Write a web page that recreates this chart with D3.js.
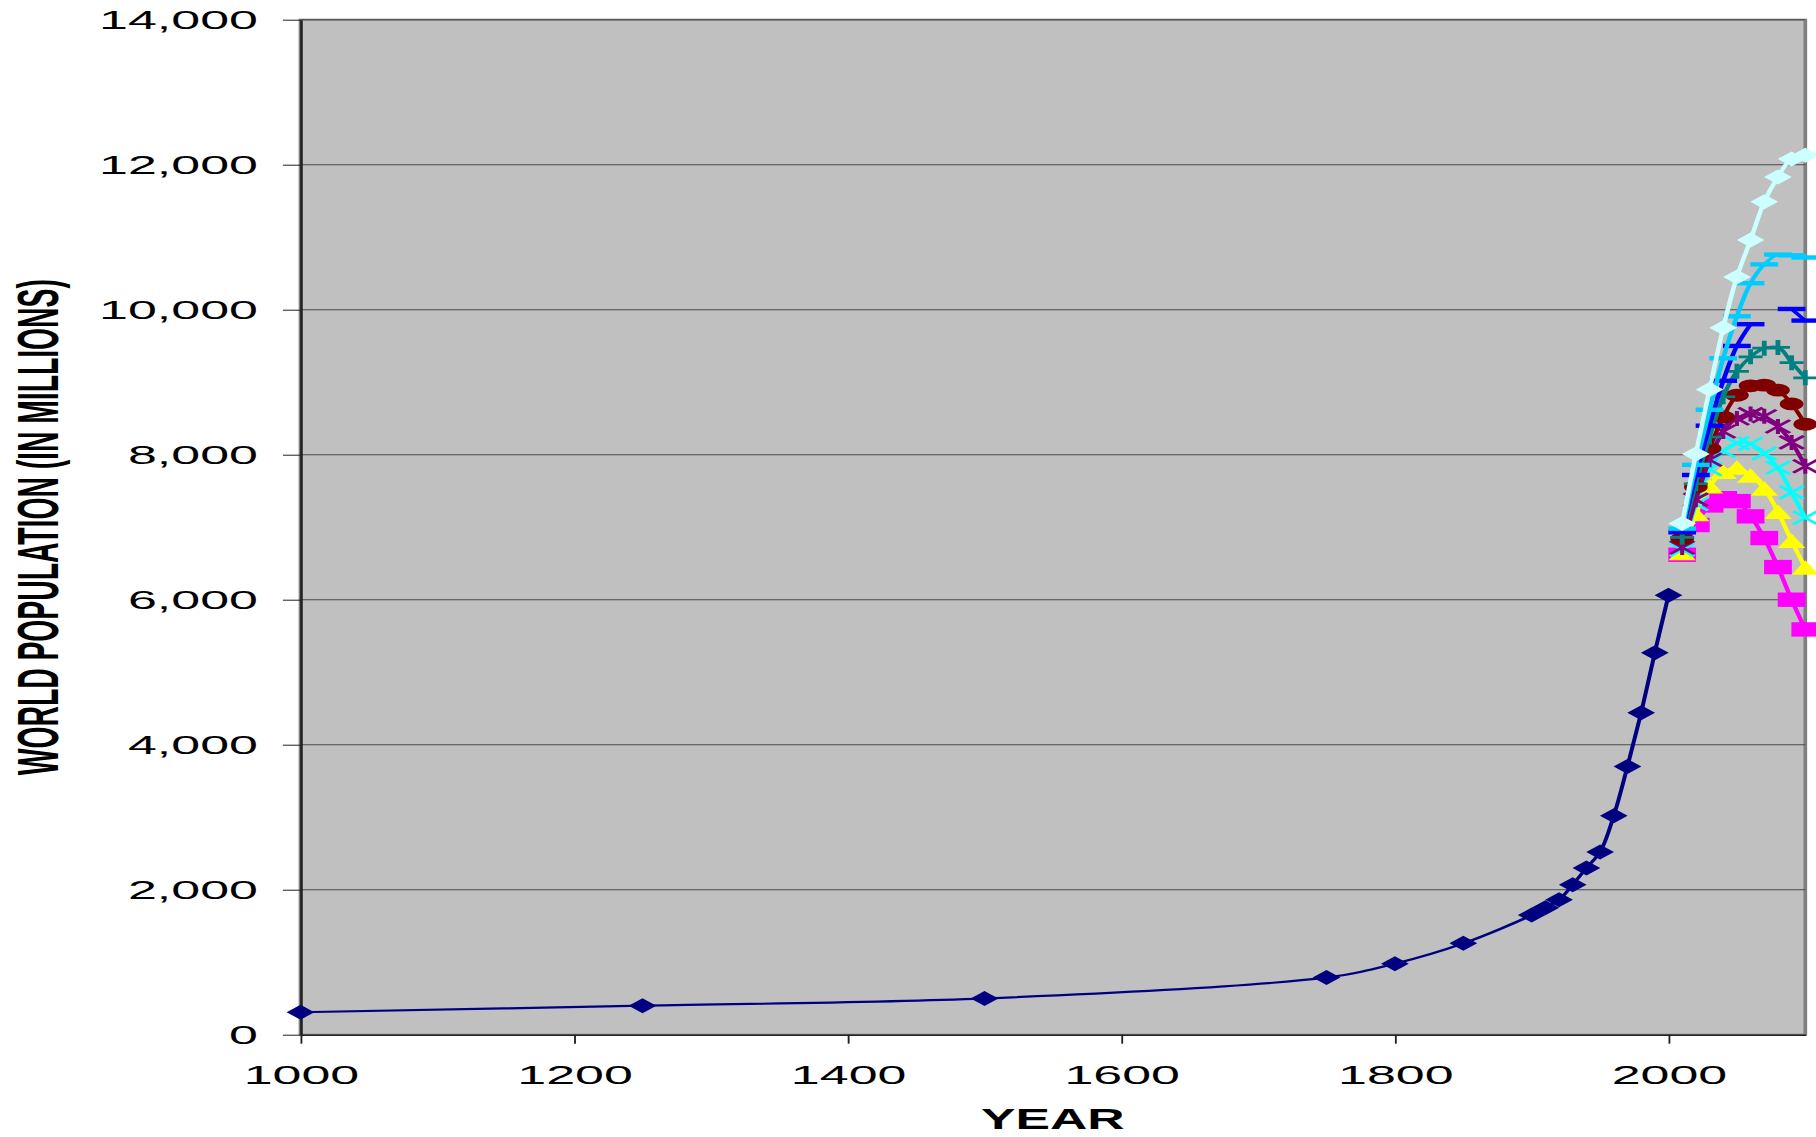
<!DOCTYPE html>
<html>
<head>
<meta charset="utf-8">
<script src="https://cdn.jsdelivr.net/npm/d3@7/dist/d3.min.js"></script>
<style>
  html, body { margin: 0; padding: 0; background: #ffffff; }
  svg { display: block; }
</style>
</head>
<body>
<svg id="chart" width="1816" height="1137"></svg>
<script>
// ---- Data -------------------------------------------------------------
// Historical world population estimates (millions)
const histYears = [1000, 1250, 1500, 1750, 1800, 1850, 1900, 1910, 1920, 1930, 1940, 1950, 1960, 1970, 1980, 1990, 2000];
const histPop   = [310, 400, 500, 790, 980, 1260, 1650, 1750, 1860, 2070, 2300, 2520, 3020, 3700, 4440, 5270, 6060];

// Projection scenarios, 2010–2100 (millions)
const projYears = [2010, 2020, 2030, 2040, 2050, 2060, 2070, 2080, 2090, 2100];
const projLowest   = [6620, 7030, 7300, 7400, 7360, 7150, 6850, 6450, 6000, 5590];
const projLow      = [6640, 7180, 7560, 7760, 7820, 7710, 7530, 7210, 6810, 6440];
const projLowMid   = [6690, 7320, 7800, 8050, 8160, 8150, 8020, 7820, 7480, 7130];
const projMidLow   = [6720, 7380, 7930, 8320, 8500, 8560, 8530, 8390, 8170, 7840];
const projMid      = [6840, 7556, 8085, 8520, 8820, 8950, 8960, 8890, 8700, 8420];
const projMidHigh  = [6860, 7600, 8245, 8800, 9150, 9350, 9470, 9480, 9270, 9060];
const projHighMid  = [6930, 7720, 8400, 9020, 9500, 9800, null, null, 10010, 9850];
const projHigh     = [6980, 7860, 8620, 9330, 9910, 10365, 10625, 10760, 10750, 10720];
const projHighest  = [7050, 8010, 8900, 9750, 10450, 10960, 11490, 11830, 12080, 12130];

// Axis ticks
const yTickValues = [0, 2000, 4000, 6000, 8000, 10000, 12000, 14000];
const xTickValues = [1000, 1200, 1400, 1600, 1800, 2000];
const xTitle = "YEAR";
const yTitle = "WORLD POPULATION (IN MILLIONS)";

// ---- Series table (values + drawing style) ----------------------------
const seriesValues = [
  { years: histYears, values: histPop },
  { years: projYears, values: projLowest },
  { years: projYears, values: projLow },
  { years: projYears, values: projLowMid },
  { years: projYears, values: projMidLow },
  { years: projYears, values: projMid },
  { years: projYears, values: projMidHigh },
  { years: projYears, values: projHighMid },
  { years: projYears, values: projHigh },
  { years: projYears, values: projHighest }
];
const seriesStyles = [
  { color: "#000080", marker: "diamond", width: 2.2 },
  { color: "#FF00FF", marker: "square",  width: 2.5 },
  { color: "#FFFF00", marker: "triangle",width: 2.5 },
  { color: "#00FFFF", marker: "cross",   width: 2.5 },
  { color: "#800080", marker: "star",    width: 2.5 },
  { color: "#800000", marker: "circle",  width: 2.5 },
  { color: "#008080", marker: "plus",    width: 2.5 },
  { color: "#0000FF", marker: "dash",    width: 2.5 },
  { color: "#00CCFF", marker: "dash",    width: 2.5 },
  { color: "#CCFFFF", marker: "diamond", width: 2.5 }
];
const series = seriesValues.map((s, i) => ({
  points: s.years.map((yr, j) => ({ year: yr, value: s.values[j] })),
  style: seriesStyles[i]
}));

// ---- Layout -------------------------------------------------------------
// The whole drawing is laid out in a narrow frame and widened horizontally.
const SX = 1.85;
const plotLeft = 300.5 / SX, plotRight = 1805.3 / SX;
const plotTop = 19.7, plotBottom = 1034.7;

const x = d3.scaleLinear().domain([1000, 2100]).range([plotLeft, plotRight]);
const y = d3.scaleLinear().domain([0, 14000]).range([plotBottom, plotTop]);

const svg = d3.select("#chart");
const root = svg.append("g").attr("transform", `scale(${SX},1)`);

// Plot area
root.append("rect")
  .attr("x", plotLeft).attr("y", plotTop)
  .attr("width", plotRight - plotLeft).attr("height", plotBottom - plotTop)
  .attr("fill", "#C0C0C0")
  .attr("stroke", "#808080").attr("stroke-width", 2);

// Horizontal gridlines
root.append("g").selectAll("line")
  .data(yTickValues.filter(v => v > 0))
  .join("line")
  .attr("x1", plotLeft).attr("x2", plotRight)
  .attr("y1", d => y(d)).attr("y2", d => y(d))
  .attr("stroke", "#4a4a4a").attr("stroke-width", 1.1);

// Axes
const tickFont = "'Liberation Sans', Arial, sans-serif";
const yAxis = root.append("g")
  .attr("transform", `translate(${plotLeft},0)`)
  .call(d3.axisLeft(y).tickValues(yTickValues).tickFormat(d3.format(","))
        .tickSize(9.5).tickSizeOuter(0).tickPadding(13.5));
const xAxis = root.append("g")
  .attr("transform", `translate(0,${plotBottom})`)
  .call(d3.axisBottom(x).tickValues(xTickValues).tickFormat(d3.format("d"))
        .tickSize(9).tickSizeOuter(0));

[yAxis, xAxis].forEach(ax => {
  ax.select(".domain").attr("stroke", "#202020").attr("stroke-width", 1.4);
  ax.selectAll(".tick line").attr("stroke", "#202020").attr("stroke-width", 1);
  ax.selectAll(".tick text")
    .attr("fill", "#000").style("font-family", tickFont).style("font-size", "26.5px");
});
yAxis.selectAll(".tick text").attr("dy", "0.35em");
xAxis.selectAll(".tick text").attr("y", 49.6).attr("dy", 0);

// widen tick labels slightly to the face used on the chart
svg.selectAll(".tick text").each(function () {
  const len = this.getComputedTextLength();
  d3.select(this).attr("textLength", len * 1.06).attr("lengthAdjust", "spacingAndGlyphs");
});

// Axis titles
root.append("text")
  .attr("x", (plotLeft + plotRight) / 2).attr("y", 1129)
  .attr("text-anchor", "middle")
  .style("font-family", tickFont).style("font-weight", "bold").style("font-size", "30px")
  .attr("textLength", 143.6 / SX).attr("lengthAdjust", "spacingAndGlyphs")
  .text(xTitle);

root.append("text")
  .attr("transform", `translate(${58 / SX},${(plotTop + plotBottom) / 2}) rotate(-90)`)
  .attr("text-anchor", "middle")
  .style("font-family", tickFont).style("font-weight", "bold").style("font-size", "31.5px")
  .attr("textLength", 496).attr("lengthAdjust", "spacingAndGlyphs")
  .text(yTitle);

// ---- Series -------------------------------------------------------------
const line = d3.line()
  .defined(d => d.value != null)
  .x(d => x(d.year)).y(d => y(d.value))
  .curve(d3.curveCatmullRom.alpha(0.5));

function drawMarker(g, kind, color) {
  switch (kind) {
    case "diamond":
      g.append("path").attr("d", "M0,-7.5L7.5,0L0,7.5L-7.5,0Z").attr("fill", color);
      break;
    case "square":
      g.append("rect").attr("x", -7.5).attr("y", -7.2).attr("width", 15).attr("height", 14.4).attr("fill", color);
      break;
    case "triangle":
      g.append("path").attr("d", "M0,-7.5L7.4,7L-7.4,7Z").attr("fill", color);
      break;
    case "circle":
      g.append("circle").attr("r", 6.4).attr("fill", color);
      break;
    case "cross":
      g.append("path").attr("d", "M-6.5,-6.5L6.5,6.5M-6.5,6.5L6.5,-6.5")
        .attr("stroke", color).attr("stroke-width", 2.2).attr("fill", "none");
      break;
    case "star":
      g.append("path").attr("d", "M-6.5,-6.5L6.5,6.5M-6.5,6.5L6.5,-6.5M0,-7.5L0,7.5")
        .attr("stroke", color).attr("stroke-width", 2.2).attr("fill", "none");
      break;
    case "plus":
      g.append("path").attr("d", "M-6.5,0L6.5,0M0,-7.5L0,7.5")
        .attr("stroke", color).attr("stroke-width", 2.6).attr("fill", "none");
      break;
    case "dash":
      g.append("rect").attr("x", -7.5).attr("y", -2.2).attr("width", 15).attr("height", 4.4).attr("fill", color);
      break;
  }
}

const seriesLayer = root.append("g");
series.forEach(s => {
  const g = seriesLayer.append("g");
  g.append("path")
    .datum(s.points)
    .attr("d", line)
    .attr("fill", "none")
    .attr("stroke", s.style.color)
    .attr("stroke-width", s.style.width)
    .attr("stroke-linejoin", "round");
  g.selectAll("g.marker")
    .data(s.points.filter(d => d.value != null))
    .join("g")
    .attr("class", "marker")
    .attr("transform", d => `translate(${x(d.year)},${y(d.value)})`)
    .each(function () { drawMarker(d3.select(this), s.style.marker, s.style.color); });
});
</script>
</body>
</html>
